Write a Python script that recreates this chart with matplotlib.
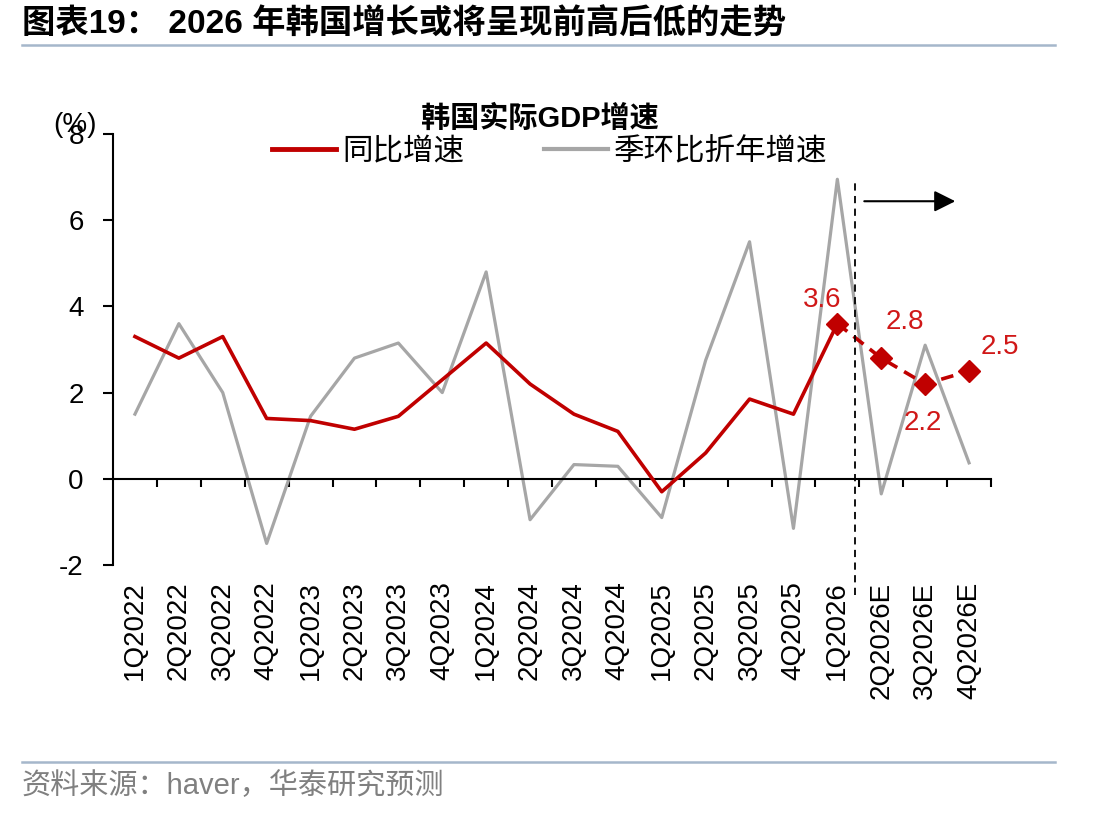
import matplotlib
matplotlib.use("Agg")
import matplotlib.pyplot as plt
from matplotlib.lines import Line2D

plt.rcParams['font.family'] = ['Liberation Sans', 'Noto Sans CJK SC', 'DejaVu Sans']

quarters = ["1Q2022", "2Q2022", "3Q2022", "4Q2022",
            "1Q2023", "2Q2023", "3Q2023", "4Q2023",
            "1Q2024", "2Q2024", "3Q2024", "4Q2024",
            "1Q2025", "2Q2025", "3Q2025", "4Q2025",
            "1Q2026", "2Q2026E", "3Q2026E", "4Q2026E"]
yoy = [3.3, 2.8, 3.3, 1.4, 1.35, 1.15, 1.45, 2.3, 3.15, 2.2, 1.5, 1.1,
       -0.3, 0.6, 1.85, 1.5, 3.6, 2.8, 2.2, 2.5]
qoq_saar = [1.5, 3.6, 2.0, -1.5, 1.45, 2.8, 3.15, 2.0, 4.8, -0.95, 0.33, 0.29,
            -0.9, 2.75, 5.5, -1.15, 6.95, -0.35, 3.1, 0.37]
n_actual = 17  # 1Q2022..1Q2026 actual, rest forecast
yticks = [-2, 0, 2, 4, 6, 8]

RED = '#c00000'
GRAY = '#a6a6a6'
LINEC = '#a5b7cb'

fig = plt.figure(figsize=(11.12, 8.16), dpi=100)
ax = fig.add_axes([113/1112, 1-565/816, (991-113)/1112, (565-134)/816])

x = list(range(len(quarters)))
ax.plot(x, qoq_saar, color=GRAY, lw=2.3, zorder=2, label='季环比折年增速')
ax.plot(x[:n_actual], yoy[:n_actual], color=RED, lw=2.6, zorder=3, label='同比增速')
ax.plot(x[n_actual-1:], yoy[n_actual-1:], color=RED, lw=2.6, ls=(0, (3.5, 2.2)),
        marker='D', markersize=11.5, zorder=4)

offsets = [(-11, 17), (17, 26), (-2, -28), (22, 17)]
for i, off in zip(range(n_actual-1, len(quarters)), offsets):
    ax.annotate(f"{yoy[i]:.1f}", (x[i], yoy[i]), xytext=off, textcoords='offset points',
                ha='center', va='center', color='#d01818', fontsize=20, zorder=5)

ax.set_xlim(-0.5, len(quarters)-0.5)
ax.set_ylim(-2, 8)
ax.spines['top'].set_visible(False)
ax.spines['right'].set_visible(False)
ax.spines['bottom'].set_position(('data', 0))
for s in ('left', 'bottom'):
    ax.spines[s].set_linewidth(1.5)
    ax.spines[s].set_color('black')

ax.set_yticks(yticks)
ax.set_yticklabels([str(v) for v in yticks], fontsize=20)
ax.tick_params(axis='y', direction='out', length=7, width=1.5, pad=14)

ax.set_xticks([k + 0.5 for k in range(len(quarters))])
ax.set_xticklabels([])
ax.set_xticks(x, minor=True)
ax.set_xticklabels(quarters, minor=True, rotation=90, va='top', ha='center', fontsize=20)
ax.tick_params(axis='x', which='major', direction='out', length=6, width=1.5)
ax.tick_params(axis='x', which='minor', length=0, pad=74)

# forecast divider and arrow
ax.axvline(16.4, ymin=-0.07, ymax=0.898, color='black', lw=1.3, ls=(0, (4, 3)),
           clip_on=False, zorder=6)
ax.annotate('', xy=(18.75, 6.44), xytext=(16.55, 6.44),
            arrowprops=dict(arrowstyle='-|>', color='black', lw=1.5, mutation_scale=32))

# texts
fig.text(75/1112, 1-125/816, '(%)', fontsize=20, ha='center', va='center')
fig.text(540/1112, 1-119/816, '韩国实际GDP增速', fontsize=21, fontweight='bold',
         ha='center', va='center')
red_h = Line2D([], [], color=RED, lw=3.5)
gray_h = Line2D([], [], color=GRAY, lw=3)
fig.legend([red_h, gray_h], ['同比增速', '季环比折年增速'], ncol=2, frameon=False,
           loc='center', bbox_to_anchor=(550/1112, 1-152/816), fontsize=22,
           handlelength=2.1, handletextpad=0.2, columnspacing=2.6)

fig.text(22/1112, 1-24/816, '图表19： 2026 年韩国增长或将呈现前高后低的走势', fontsize=24,
         fontweight='bold', ha='left', va='center')
fig.add_artist(Line2D([22/1112, 1055/1112], [1-45/816, 1-45/816], color=LINEC, lw=1.8))
fig.add_artist(Line2D([22/1112, 1055/1112], [1-762/816, 1-762/816], color=LINEC, lw=1.8))
fig.text(22/1112, 1-786/816, '资料来源：haver，华泰研究预测', fontsize=21, color='#808080',
         ha='left', va='center')

fig.savefig('out.png', dpi=100)
